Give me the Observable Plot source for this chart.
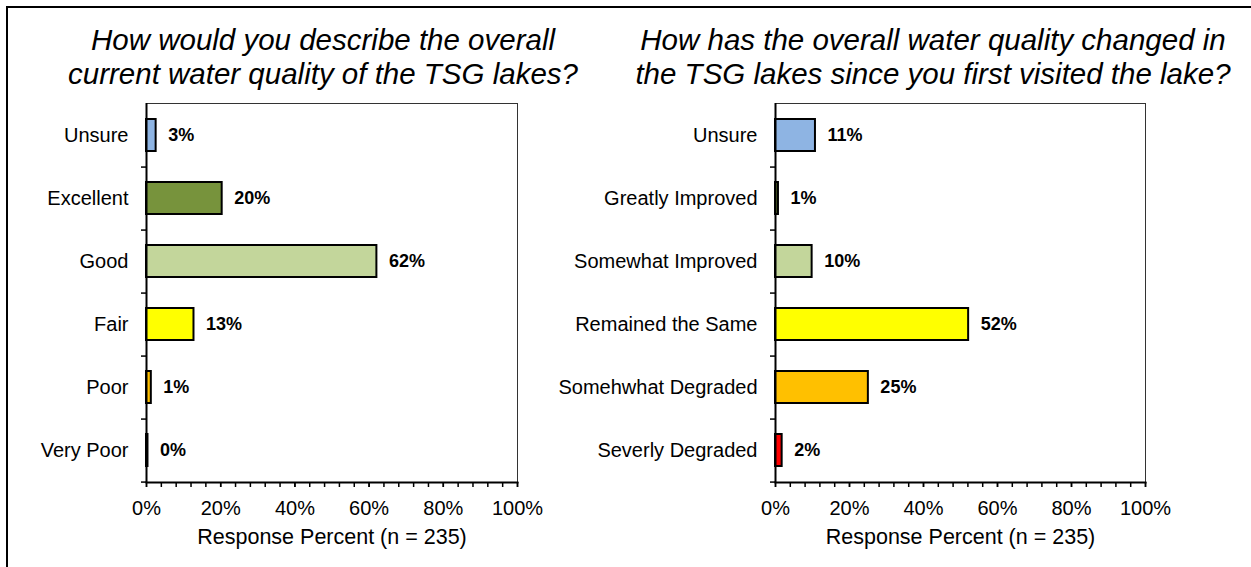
<!DOCTYPE html>
<html><head><meta charset="utf-8">
<script src="https://cdn.jsdelivr.net/npm/d3@7"></script>
<script src="https://cdn.jsdelivr.net/npm/@observablehq/plot@0.6"></script>
<style>
body{margin:0;background:#fff;font-family:"Liberation Sans",Arial,sans-serif;width:1251px;height:567px;overflow:hidden;position:relative}
#frame{position:absolute;left:6px;top:6px;width:1300px;height:620px;border:2px solid #000;box-sizing:border-box}
.title{position:absolute;top:23px;font-style:italic;font-size:29.5px;line-height:34px;text-align:center;color:#000;white-space:nowrap}
.panel{position:absolute;top:0}
</style></head><body>
<div id="frame"></div>
<div class="panel" id="p1" style="left:0px"></div>
<div class="panel" id="p2" style="left:625px"></div>
<div class="title" style="left:23px;width:600px">How would you describe the overall<br>current water quality of the TSG lakes?</div>
<div class="title" style="left:633px;width:600px">How has the overall water quality changed in<br>the TSG lakes since you first visited the lake?</div>
<script>
const leftCategories = ["Unsure","Excellent","Good","Fair","Poor","Very Poor"];
const leftValues = [2.6, 20.4, 62.1, 12.8, 1.3, 0.4];
const leftColors = ["#8EB4E3","#77933C","#C3D69B","#FFFF00","#FFC000","#FF0000"];

const rightCategories = ["Unsure","Greatly Improved","Somewhat Improved","Remained the Same","Somehwhat Degraded","Severly Degraded"];
const rightValues = [10.8, 0.8, 9.9, 52.2, 25.1, 1.8];
const rightColors = ["#8EB4E3","#77933C","#C3D69B","#FFFF00","#FFC000","#FF0000"];

const xMajorTicks = [0,20,40,60,80,100];
const xMinorTicks = d3.range(0,101,4);
const xLabel = "Response Percent (n = 235)";

function panel(cats, vals, colors, W, ml, mr) {
  const H = 567, mt = 103, mb = 85;
  const step = (H - mt - mb) / cats.length;
  const data = cats.map((c, i) => ({c, v: vals[i], col: colors[i]}));
  return Plot.plot({
    width: W, height: H, marginLeft: ml, marginRight: mr, marginTop: mt, marginBottom: mb,
    style: {fontFamily: "'Liberation Sans', Arial, sans-serif", fontSize: "20px", color: "#000", background: "transparent", overflow: "visible"},
    x: {domain: [0, 100], axis: null},
    y: {domain: cats, paddingInner: 0.49, paddingOuter: 0.245, axis: null},
    color: {type: "identity"},
    marks: [
      Plot.frame({stroke: "#333", strokeWidth: 1}),
      Plot.barX(data, {x: "v", y: "c", fill: "col", stroke: "#000", strokeWidth: 2}),
      Plot.text(data, {x: "v", y: "c", text: d => Math.round(d.v) + "%", dx: 12, textAnchor: "start", fontWeight: "bold", fontSize: 18, fill: "#000"}),
      Plot.ruleX([0], {stroke: "#000", strokeWidth: 2}),
      Plot.frame({anchor: "bottom", stroke: "#000", strokeWidth: 2}),
      Plot.axisX({ticks: xMajorTicks, tickSize: 5, tickPadding: 13.5, tickFormat: d => d + "%", label: null, strokeWidth: 1.5, fontSize: 20}),
      Plot.axisX({ticks: xMinorTicks, tickSize: 5, text: null, label: null, strokeWidth: 1.5}),
      Plot.axisY({tickSize: 0, tickPadding: 18, label: null, fontSize: 20}),
      Plot.axisY({tickSize: 5, text: null, label: null, dy: step / 2, strokeWidth: 1.5}),
      Plot.text([xLabel], {frameAnchor: "bottom", dy: 55, lineAnchor: "middle", fontSize: 21.5, fill: "#000"})
    ]
  });
}

document.getElementById("p1").appendChild(panel(leftCategories, leftValues, leftColors, 625, 146, 108));
document.getElementById("p2").appendChild(panel(rightCategories, rightValues, rightColors, 626, 150, 106));
</script>
</body></html>
